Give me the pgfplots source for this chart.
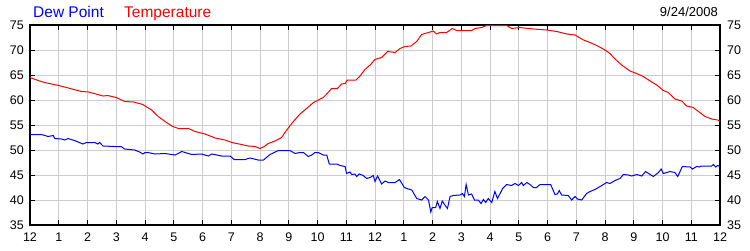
\documentclass[border=0pt]{standalone}
\usepackage{pgfplots}
\pgfplotsset{compat=1.18}
\usepackage{fontspec}
\setmainfont{Liberation Sans}
\definecolor{dpblue}{RGB}{0,0,255}
\definecolor{tmpred}{RGB}{255,0,0}
\definecolor{gridgray}{RGB}{204,204,204}
\begin{document}
\begin{tikzpicture}
\path[use as bounding box] (-30pt,-25pt) rectangle (720pt,225pt);
\begin{axis}[
  at={(0pt,0pt)}, anchor=south west,
  scale only axis, width=690pt, height=200pt,
  xmin=0, xmax=24, ymin=35, ymax=75,
  xtick={0,1,...,24},
  xticklabels={12,1,2,3,4,5,6,7,8,9,10,11,12,1,2,3,4,5,6,7,8,9,10,11,12},
  ytick={35,40,...,75},
  grid=major,
  major grid style={color=gridgray, line width=1pt},
  tick align=inside,
  xtick pos=both, ytick pos=both,
  xticklabel pos=lower, yticklabel pos=left,
  major tick length=5pt,
  tick style={black, line width=1pt},
  axis line style={black, line width=1.2pt},
  /pgf/number format/assume math mode=true,
  tick label style={font=\fontsize{12.5}{14}\selectfont, text=black},
  yticklabel style={anchor=east, inner sep=0pt, xshift=-6pt},
  xticklabel style={anchor=north, inner sep=0pt, yshift=-8pt},
]
\addplot[color=tmpred, line width=1pt, no marks] coordinates {
(0,64.5)(0.28,63.9)(0.51,63.5)(1.0,62.9)(1.4,62.3)(1.79,61.7)(2.04,61.6)(2.36,61.1)(2.54,60.8)(2.7,60.9)(3.0,60.5)(3.3,59.7)(3.6,59.6)(3.93,59.1)
(4.0,58.8)(4.23,58.0)(4.46,56.7)(4.70,55.7)(4.93,54.8)(5.16,54.3)(5.51,54.3)(5.74,53.7)(6.09,53.2)(6.44,52.4)(6.78,52.0)(7.02,51.5)(7.36,51.1)(7.59,50.8)(7.83,50.7)(8.0,50.3)
(8.12,50.6)(8.29,51.3)(8.52,51.8)(8.75,52.5)(8.93,54.0)(9.16,55.7)(9.39,57.2)(9.62,58.3)(9.86,59.5)(10.03,60.0)(10.20,60.5)(10.32,61.2)(10.49,62.3)(10.69,62.3)(10.84,63.2)(10.96,63.3)(11.04,64.0)(11.34,64.0)(11.48,64.8)(11.65,66.1)(11.83,67.0)
(12.0,68.1)(12.23,68.5)(12.44,69.7)(12.70,69.5)(12.87,70.3)(13.04,70.7)(13.25,70.8)(13.45,71.7)(13.62,73.1)(13.86,73.5)(14.03,73.8)(14.14,73.2)(14.26,73.5)(14.49,73.5)(14.69,74.3)(14.84,73.9)(15.36,73.9)(15.48,74.3)(15.71,74.5)(15.88,74.9)
(16.0,74.9)(16.58,74.9)(16.75,74.3)(17.04,74.5)(17.51,74.2)(17.97,74.0)(18.32,73.7)(18.67,73.2)(18.96,73.0)(19.25,72.0)(19.48,71.5)(19.71,70.9)(19.94,70.2)(20.1,69.6)
(20.17,69.3)(20.35,68.2)(20.58,67.0)(20.87,65.8)(21.10,65.3)(21.33,64.7)(21.57,63.8)(21.80,63.0)(22.03,61.9)(22.20,61.5)(22.43,60.2)(22.67,59.8)(22.84,58.8)(23.07,58.5)(23.25,57.7)(23.48,56.7)(23.71,56.2)(23.92,56.0)(24.0,55.7)
};
\addplot[color=dpblue, line width=1pt, no marks] coordinates {
(0,53.1)(0.4,53.1)(0.63,52.7)(0.81,52.9)(0.86,52.3)(1.09,52.2)(1.21,52.0)(1.32,52.3)(1.55,51.9)(1.84,51.2)(1.96,51.5)(2.25,51.5)(2.36,51.2)(2.42,51.5)(2.54,50.8)(2.94,50.7)(3.17,50.7)(3.29,50.2)(3.64,50.0)(3.81,49.6)(3.93,49.2)(4.0,49.5)
(4.10,49.5)(4.35,49.2)(4.70,49.3)(5.05,49.0)(5.28,49.7)(5.62,49.1)(5.97,49.2)(6.2,48.8)(6.32,49.2)(6.67,48.8)(6.96,48.8)(7.1,48.1)(7.48,48.1)(7.65,48.4)(7.94,48.0)(8.12,48.0)
(8.35,49.1)(8.64,49.9)(9.04,49.9)(9.22,49.3)(9.39,49.5)(9.51,49.5)(9.68,48.7)(9.80,49.0)(9.91,49.5)(10.03,49.5)(10.20,49.0)(10.32,49.0)(10.41,47.2)(10.67,47.2)(10.78,46.9)(10.96,46.7)(11.01,45.3)(11.13,45.6)(11.19,45.1)(11.30,45.2)(11.36,44.7)(11.45,45.2)(11.59,44.9)(11.71,44.3)(11.83,44.5)(11.94,44.9)
(12.0,43.7)(12.09,44.8)(12.23,43.2)(12.35,43.8)(12.46,43.5)(12.70,43.5)(12.85,44.1)(13.02,42.5)(13.16,42.2)(13.28,42.0)(13.45,40.3)(13.62,40.0)(13.74,40.7)(13.86,40.0)(13.94,37.6)(13.99,38.5)(14.11,38.5)(14.17,39.7)(14.26,38.3)(14.34,39.8)(14.43,39.0)(14.52,38.3)(14.61,40.7)(14.72,40.9)(14.96,41.0)(15.04,41.3)(15.11,40.7)(15.17,43.1)(15.25,41.0)(15.36,41.2)(15.46,40.0)(15.59,40.0)(15.69,39.3)(15.77,40.1)(15.85,39.5)(15.94,40.3)(16.06,39.5)
(16.17,41.7)(16.26,40.3)(16.44,42.3)(16.58,43.1)(16.75,42.9)(16.87,43.3)(16.99,42.9)(17.10,43.5)(17.16,42.9)(17.28,43.5)(17.39,43.1)(17.51,42.5)(17.62,42.5)(17.74,43.1)(18.11,43.1)(18.26,41.1)(18.34,41.2)(18.41,41.9)(18.49,41.0)(18.72,40.9)(18.84,40.0)(18.96,40.7)(19.04,40.2)(19.19,40.0)(19.36,41.3)(19.48,41.7)(19.65,42.1)(19.83,42.7)(20.06,43.5)
(20.17,43.3)(20.35,43.9)(20.52,44.3)(20.64,45.1)(20.81,45.0)(20.93,44.8)(21.10,45.1)(21.28,44.8)(21.41,45.7)(21.57,45.1)(21.68,44.7)(21.86,45.5)(21.95,46.2)(22.03,45.3)(22.26,45.7)(22.43,45.5)(22.53,44.7)(22.69,46.7)(22.96,46.6)(23.04,46.2)(23.19,46.7)(23.27,46.6)(23.36,46.8)(23.71,46.8)(23.77,47.1)(23.85,46.6)(23.92,46.9)(24.0,46.7)
};
\end{axis}
\begin{axis}[
  at={(0pt,0pt)}, anchor=south west,
  scale only axis, width=690pt, height=200pt,
  xmin=0, xmax=24, ymin=35, ymax=75,
  hide x axis,
  axis y line*=right,
  y axis line style={draw=none},
  ytick={35,40,...,75},
  ytick style={draw=none},
  /pgf/number format/assume math mode=true,
  tick label style={font=\fontsize{12.5}{14}\selectfont, text=black},
  yticklabel style={anchor=west, inner sep=0pt, xshift=7pt},
]
\end{axis}
\node[anchor=base west, inner sep=0pt, text=dpblue, font=\fontsize{15.5}{17}\selectfont] at (3pt,207.7pt) {Dew Point};
\node[anchor=base west, inner sep=0pt, text=tmpred, font=\fontsize{15.5}{17}\selectfont] at (94pt,207.7pt) {Temperature};
\node[anchor=base east, inner sep=0pt, text=black, font=\fontsize{13}{15}\selectfont] at (688pt,208.3pt) {9/24/2008};
\end{tikzpicture}
\end{document}
